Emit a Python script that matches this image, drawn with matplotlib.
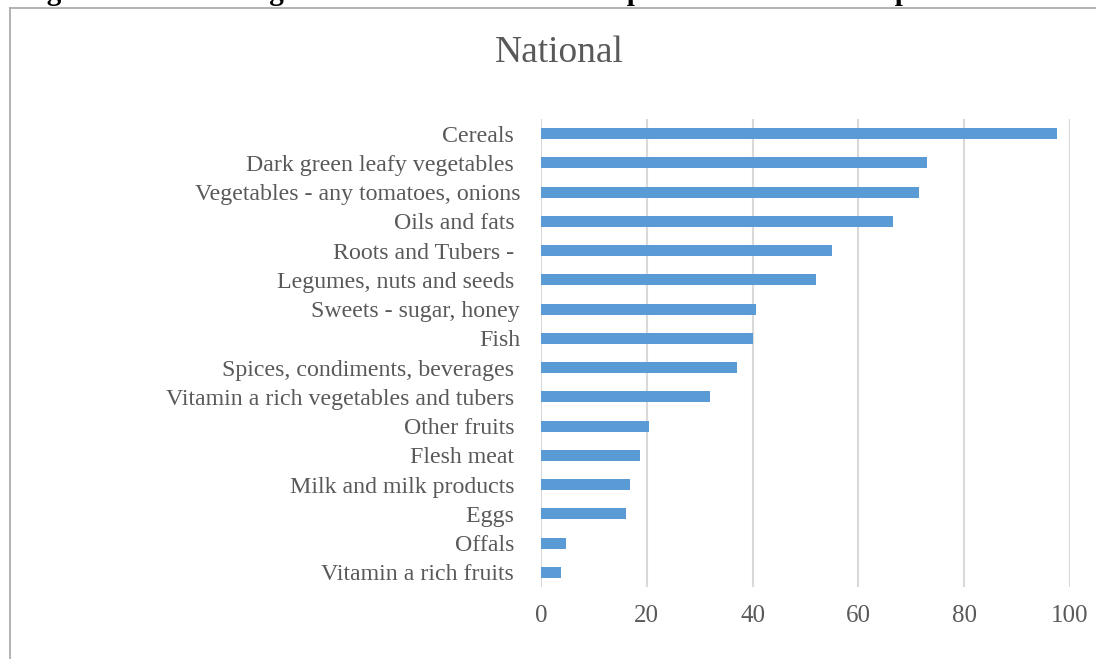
import matplotlib
matplotlib.use("Agg")
import matplotlib.pyplot as plt
from matplotlib.lines import Line2D

plt.rcParams['font.family'] = ['Liberation Serif', 'DejaVu Serif']

# food groups, top to bottom as in the chart
food_groups = [
    "Cereals ",
    "Dark green leafy vegetables ",
    "Vegetables - any tomatoes, onions",
    "Oils and fats ",
    "Roots and Tubers - ",
    "Legumes, nuts and seeds ",
    "Sweets - sugar, honey",
    "Fish",
    "Spices, condiments, beverages ",
    "Vitamin a rich vegetables and tubers ",
    "Other fruits ",
    "Flesh meat ",
    "Milk and milk products ",
    "Eggs ",
    "Offals ",
    "Vitamin a rich fruits ",
]
percent = [97.6, 72.9, 71.4, 66.5, 55.0, 52.0, 40.6, 40.0,
           37.1, 32.0, 20.4, 18.7, 16.9, 16.1, 4.8, 3.8]
x_ticks = [0, 20, 40, 60, 80, 100]
caption = "Figure 4: Percentage of Household's Consumption of Food Groups in Zambia"

W, H = 1096, 659
fig = plt.figure(figsize=(W / 100, H / 100), dpi=100)
ax = fig.add_axes([541 / W, 1 - 587 / H, (1070 - 541) / W, (587 - 119) / H])

ypos = list(range(len(food_groups)))
ax.barh(ypos, percent, height=0.38, color="#5b9bd5", zorder=3)
ax.set_ylim(len(food_groups) - 0.5, -0.5)
ax.set_yticks(ypos)
ax.set_yticklabels(food_groups, fontsize=17.2, color="#595959")
ax.set_xlim(0, 100)
ax.set_xticks(x_ticks)
ax.set_xticklabels([str(t) for t in x_ticks], fontsize=18, color="#595959")
ax.tick_params(axis="y", length=0, pad=15)
ax.tick_params(axis="x", length=0, pad=13)
ax.grid(axis="x", color="#d9d9d9", linewidth=1.5, zorder=0)
for s in ax.spines.values():
    s.set_visible(False)

# chart title
fig.text(559 / W, 1 - 62 / H, "National", fontsize=27, color="#595959",
         ha="center", va="baseline")

# figure caption from the page above, cut off by the chart frame (justified line)
renderer = fig.canvas.get_renderer()
x = 22
for word in caption.split(" "):
    t = fig.text(x / W, 1.0, word, fontsize=21, fontweight="bold",
                 color="black", ha="left", va="baseline")
    bb = t.get_window_extent(renderer)
    x = bb.x1 + 16.5

# chart area border
fig.add_artist(Line2D([10 / W, 10 / W], [0, 1 - 7.5 / H], color="#a6a6a6",
                      linewidth=1.2, transform=fig.transFigure))
fig.add_artist(Line2D([10 / W, 1], [1 - 7.5 / H, 1 - 7.5 / H], color="#a6a6a6",
                      linewidth=1.2, transform=fig.transFigure))

fig.savefig("out.png", dpi=100)
